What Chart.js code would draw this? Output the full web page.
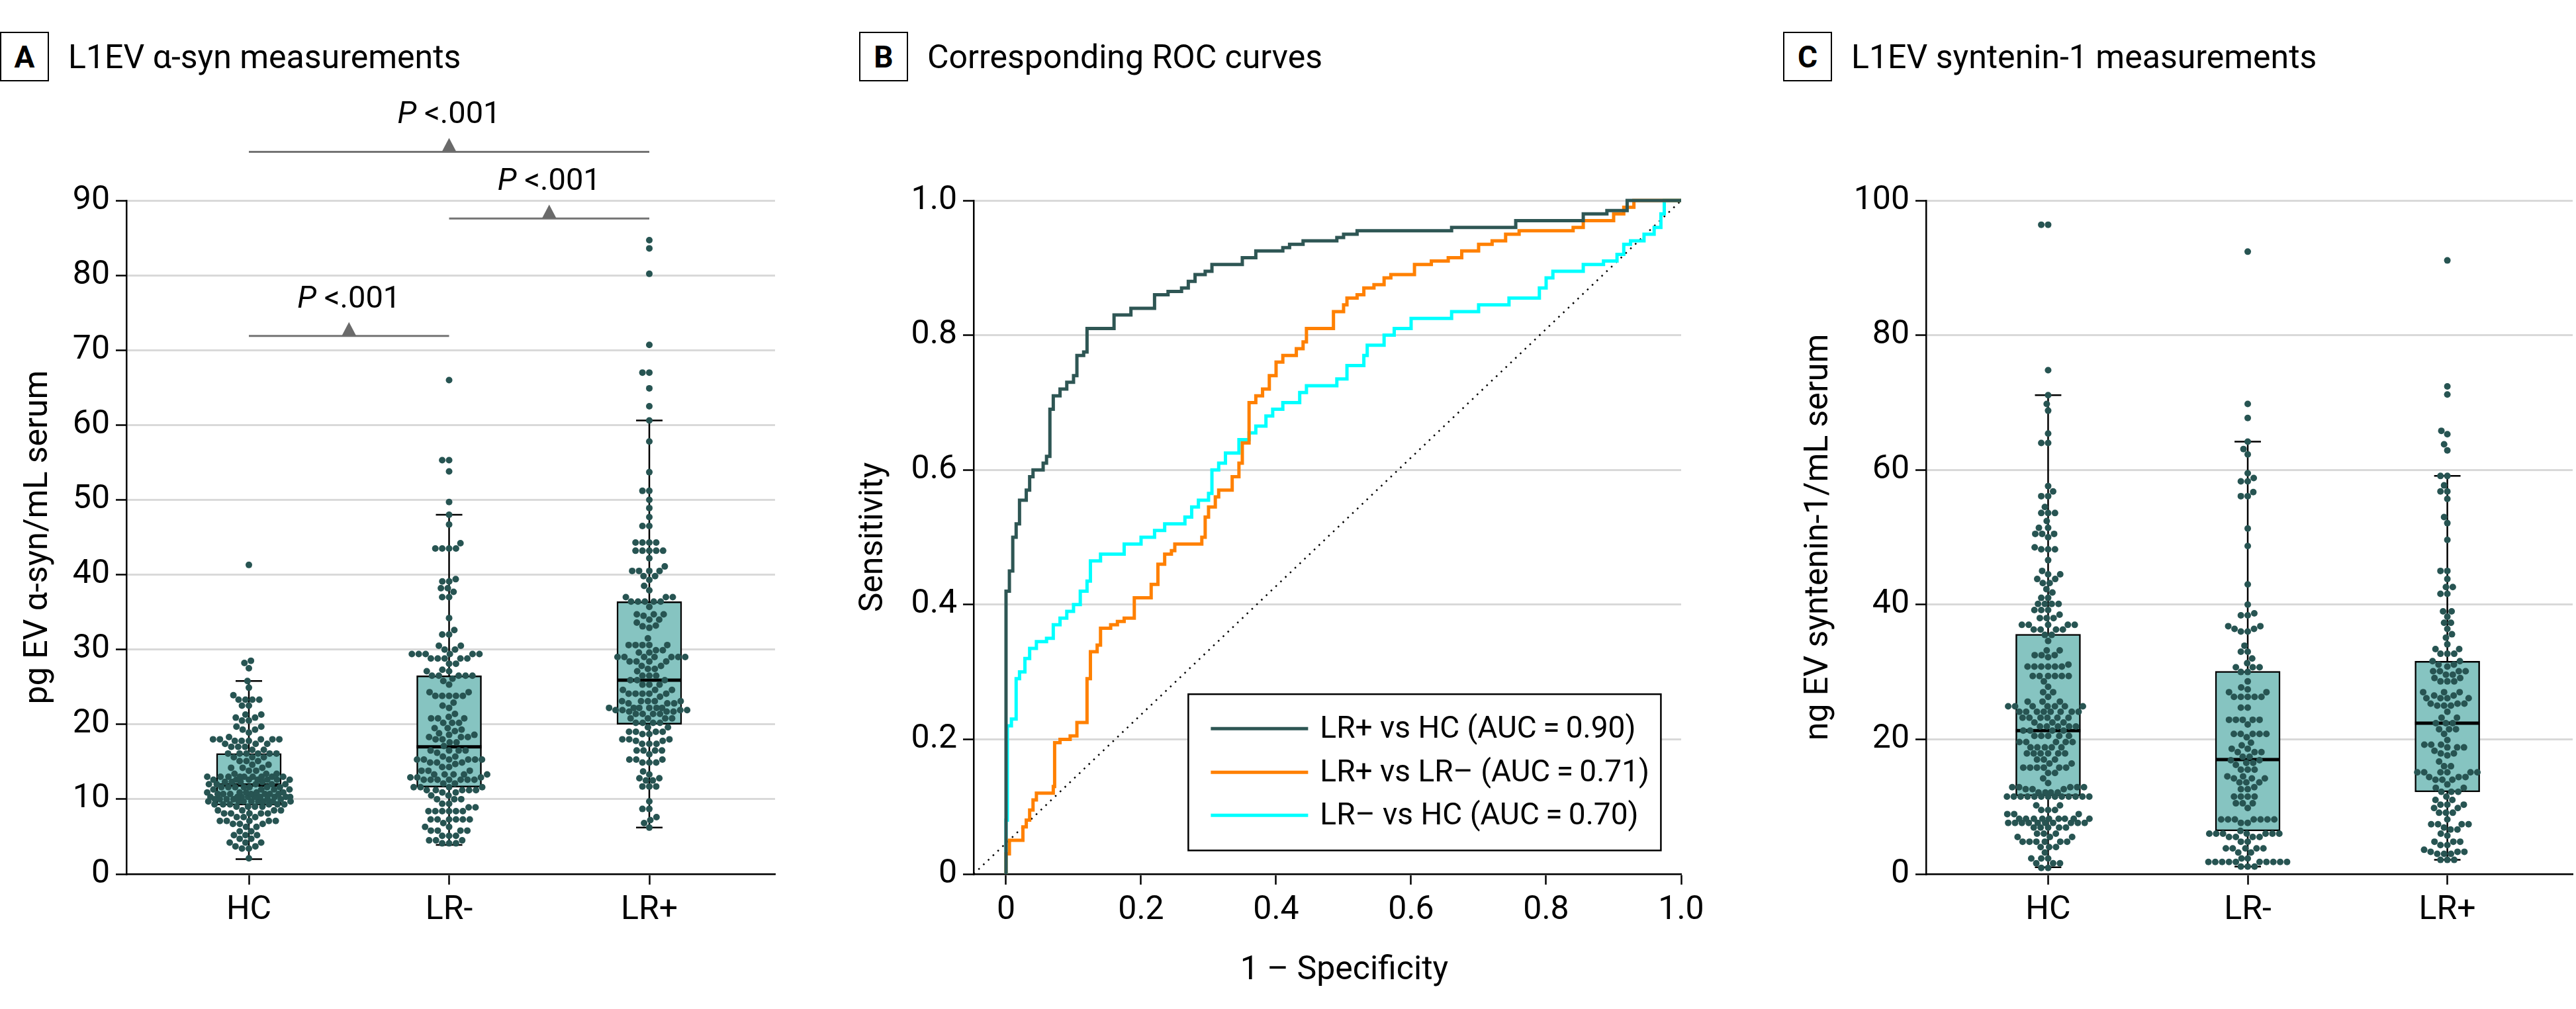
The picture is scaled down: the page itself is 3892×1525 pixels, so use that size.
<!DOCTYPE html>
<html><head><meta charset="utf-8">
<script src="https://cdn.jsdelivr.net/npm/chart.js@4.4.1/dist/chart.umd.min.js"></script>
<style>
html,body{margin:0;padding:0;background:#fff;}
#wrap{position:relative;width:3892px;height:1525px;overflow:hidden;font-family:Roboto,"Noto Sans",sans-serif;color:#000;}
canvas{position:absolute;top:0;}
.hdr{position:absolute;top:48px;height:75px;display:flex;align-items:center;white-space:nowrap;}
.lbl{box-sizing:border-box;width:74px;height:75px;border:2.5px solid #000;display:flex;align-items:center;justify-content:center;font-weight:700;font-size:46px;}
.ttl{font-size:50px;margin-left:29px;}
</style></head>
<body><div id="wrap">
<div class="hdr" style="left:0px"><div class="lbl">A</div><div class="ttl">L1EV α-syn measurements</div></div>
<div class="hdr" style="left:1298px"><div class="lbl">B</div><div class="ttl">Corresponding ROC curves</div></div>
<div class="hdr" style="left:2694px"><div class="lbl">C</div><div class="ttl">L1EV syntenin-1 measurements</div></div>
<canvas id="cA" width="1240" height="1525" style="left:0px"></canvas>
<canvas id="cB" width="1400" height="1525" style="left:1240px"></canvas>
<canvas id="cC" width="1252" height="1525" style="left:2640px"></canvas>
</div>
<script>
// ---------------- DATA ----------------
const categories = ['HC', 'LR-', 'LR+'];

// Panel A: L1EV alpha-syn (pg/mL)
const synHC = [41.3,28.5,28.2,27.5,25.8,24.9,23.9,23.3,23.3,23.3,23.3,22.5,22.5,21.3,21.3,20.9,20.9,20.5,20.5,19.7,19.7,19.3,19.3,18.9,18.3,
 18.0,18.0,18.0,18.0,18.0,17.8,17.8,17.8,17.4,17.4,17.4,17.0,17.0,17.0,16.6,16.6,16.1,16.1,16.1,16.1,16.1,16.1,15.6,15.6,15.6,15.1,15.1,15.1,
 14.6,14.6,14.2,14.2,14.2,13.8,13.8,13.4,13.4,13.4,13.0,13.0,13.0,13.0,13.0,13.0,13.0,13.0,13.0,12.6,12.6,12.6,12.6,12.6,12.6,12.6,
 12.3,12.3,12.3,12.3,12.0,12.0,12.0,12.0,12.0,11.6,11.6,11.6,11.6,11.6,11.6,11.6,11.3,11.3,11.3,11.3,10.9,10.9,10.9,10.9,10.9,
 10.7,10.7,10.7,10.7,10.7,10.7,10.7,10.3,10.3,10.3,10.3,10.3,10.3,10.3,10.3,10.3,10.0,10.0,10.0,10.0,10.0,10.0,
 9.7,9.7,9.7,9.7,9.7,9.7,9.7,9.7,9.3,9.3,9.3,9.3,9.3,9.3,9.0,9.0,9.0,9.0,8.5,8.5,8.5,8.5,8.1,8.1,8.1,8.1,8.1,7.6,7.6,7.6,
 7.1,7.1,7.1,7.1,7.1,6.7,6.7,6.7,6.3,6.3,5.7,5.7,5.2,5.2,5.2,4.7,4.7,4.2,4.2,4.2,3.7,3.7,3.4,3.4,2.1];
const synLRn = [66.0,55.3,55.3,53.8,49.7,48.0,46.7,44.2,43.5,43.5,43.5,43.5,39.4,39.1,39.1,38.2,38.2,37.7,37.0,37.0,34.2,32.6,32.0,32.0,
 30.5,30.5,30.0,30.0,29.4,29.4,29.4,29.4,29.4,29.4,28.8,28.8,28.8,28.8,28.8,28.1,28.1,27.3,27.1,27.1,26.5,26.5,26.5,26.5,26.5,26.1,25.8,25.3,
 24.3,24.3,23.8,23.8,23.8,23.8,23.8,22.9,22.5,22.2,21.4,21.0,20.8,20.8,20.8,20.2,20.2,20.2,19.5,19.5,19.3,19.1,18.8,18.6,18.6,18.3,18.3,18.3,
 18.0,18.0,17.6,17.6,17.1,16.5,16.5,16.5,16.5,16.2,15.7,15.7,15.3,15.3,15.3,15.3,15.3,15.3,14.9,14.9,14.9,14.7,14.3,14.3,13.8,13.8,13.8,
 13.3,13.3,13.3,13.3,13.3,12.9,12.9,12.9,12.6,12.6,12.6,12.6,12.6,12.6,12.6,12.1,12.1,11.6,11.6,11.6,11.6,11.2,11.2,11.2,11.2,11.2,
 10.9,10.9,10.5,10.5,10.0,10.0,10.0,9.4,9.4,8.9,8.9,8.4,8.4,8.4,8.4,8.4,8.4,7.3,7.3,7.3,7.3,7.3,7.3,6.8,6.3,6.3,5.8,5.8,5.8,5.8,
 5.1,5.1,5.1,4.5,4.5,4.5,4.1,4.1,4.1];
const synLRp = [84.7,83.6,80.2,70.7,67.0,67.0,64.9,62.5,60.6,57.8,53.7,51.2,51.2,50.0,48.9,47.7,46.5,46.5,44.3,44.3,44.3,44.3,
 43.2,43.2,43.2,43.2,43.2,42.2,41.1,40.5,40.5,40.5,40.5,39.8,39.8,39.3,38.5,37.9,37.0,37.0,37.0,36.4,36.4,36.4,36.4,36.4,35.7,
 34.7,34.7,34.7,34.5,34.0,34.0,33.6,33.2,33.1,32.9,31.5,30.6,30.6,30.6,30.6,30.6,29.9,29.9,29.6,29.6,29.0,29.0,29.0,29.0,29.0,29.0,29.0,
 28.4,28.4,28.4,28.4,27.8,27.8,27.4,27.4,27.1,26.5,26.5,26.5,25.9,25.9,25.9,25.3,25.3,25.3,24.6,24.6,24.6,24.1,24.1,24.1,24.1,24.1,23.7,
 23.1,23.1,23.1,23.1,23.1,22.8,22.8,22.8,22.2,22.2,22.2,22.2,22.2,22.2,21.9,21.9,21.9,21.9,21.7,21.7,21.7,21.4,21.4,21.4,21.4,
 20.8,20.8,20.8,20.8,20.2,20.2,20.2,20.2,19.6,19.6,19.0,19.0,19.0,19.0,18.7,18.7,18.0,18.0,18.0,17.8,17.8,17.4,17.4,17.4,
 16.5,16.5,16.5,16.5,16.0,15.3,15.3,15.3,14.9,14.9,14.9,13.7,13.3,12.8,12.8,12.5,12.5,11.7,11.7,11.7,9.7,8.7,8.7,7.6,7.2,6.8,6.2];
const synLow  = [2.0, 3.9, 6.2];
const synQ1   = [9.2, 11.6, 20.0];
const synMed  = [11.9, 17.0, 25.9];
const synQ3   = [16.1, 26.5, 36.4];
const synHigh = [25.8, 48.0, 60.6];
const synTicks = [0,10,20,30,40,50,60,70,80,90];
const synPairs = [[0,1],[1,2],[0,2]];
const synPText = ['<.001','<.001','<.001'];

// Panel B: ROC curves (1 - specificity, sensitivity)
const rocNames = ['LR+ vs HC (AUC\u2009=\u20090.90)', 'LR+ vs LR\u2013 (AUC\u2009=\u20090.71)', 'LR\u2013 vs HC (AUC\u2009=\u20090.70)'];
const rocHcFpr = [0,0,0.005,0.01,0.015,0.02,0.03,0.035,0.04,0.055,0.06,0.065,0.07,0.08,0.09,0.10,0.105,0.115,0.12,0.16,
 0.185,0.22,0.24,0.26,0.27,0.28,0.295,0.305,0.35,0.37,0.41,0.42,0.44,0.49,0.50,0.52,0.66,0.755,0.855,0.89,0.92,1.0];
const rocHcTpr = [0,0.42,0.45,0.50,0.52,0.555,0.57,0.59,0.60,0.61,0.62,0.69,0.71,0.72,0.73,0.74,0.77,0.775,0.81,0.83,
 0.84,0.86,0.865,0.87,0.88,0.89,0.895,0.905,0.915,0.925,0.93,0.935,0.94,0.945,0.95,0.955,0.96,0.97,0.98,0.985,1.0,1.0];
const rocLrFpr = [0,0,0.005,0.025,0.03,0.035,0.04,0.045,0.07,0.072,0.08,0.095,0.105,0.12,0.125,0.135,0.14,0.155,0.165,0.175,
 0.19,0.215,0.225,0.235,0.245,0.25,0.29,0.295,0.30,0.31,0.315,0.335,0.345,0.35,0.36,0.37,0.38,0.39,0.40,0.41,
 0.43,0.44,0.445,0.485,0.50,0.505,0.52,0.53,0.545,0.56,0.57,0.605,0.63,0.655,0.675,0.70,0.72,0.74,0.76,0.84,0.855,0.90,0.915,0.93,1.0];
const rocLrTpr = [0,0.03,0.05,0.07,0.08,0.095,0.11,0.12,0.13,0.195,0.20,0.205,0.225,0.29,0.33,0.34,0.365,0.37,0.375,0.38,
 0.41,0.43,0.46,0.475,0.48,0.49,0.50,0.53,0.545,0.56,0.57,0.59,0.61,0.64,0.70,0.71,0.72,0.74,0.76,0.77,
 0.78,0.79,0.81,0.835,0.845,0.855,0.86,0.87,0.875,0.885,0.89,0.905,0.91,0.915,0.925,0.935,0.94,0.95,0.955,0.96,0.97,0.98,0.99,1.0,1.0];
const rocNegFpr = [0,0,0.002,0.008,0.015,0.02,0.028,0.035,0.045,0.06,0.07,0.08,0.09,0.10,0.11,0.12,0.125,0.14,0.175,0.20,
 0.22,0.235,0.265,0.275,0.285,0.30,0.305,0.315,0.325,0.345,0.36,0.37,0.385,0.395,0.41,0.435,0.445,0.49,0.505,0.53,
 0.535,0.56,0.575,0.60,0.66,0.70,0.745,0.79,0.80,0.81,0.855,0.885,0.905,0.915,0.925,0.945,0.96,0.97,0.975,1.0];
const rocNegTpr = [0,0.08,0.22,0.23,0.29,0.30,0.32,0.335,0.345,0.35,0.37,0.38,0.39,0.40,0.42,0.435,0.465,0.475,0.49,0.50,
 0.51,0.52,0.53,0.545,0.555,0.565,0.60,0.61,0.625,0.645,0.655,0.665,0.68,0.69,0.70,0.715,0.725,0.735,0.755,0.77,
 0.785,0.80,0.81,0.825,0.835,0.845,0.855,0.87,0.885,0.895,0.905,0.91,0.92,0.935,0.94,0.95,0.96,0.98,1.0,1.0];
const rocTicks = [0,0.2,0.4,0.6,0.8,1.0];

// Panel C: L1EV syntenin-1 (ng/mL)
const sytHC = [96.4,96.4,74.8,71.1,69.8,68.8,65.4,64.0,64.0,57.6,56.8,56.1,56.1,54.5,53.6,53.6,53.6,52.4,51.4,51.4,50.5,50.5,50.5,50.0,
 48.5,48.2,48.2,48.2,46.6,45.0,44.5,44.5,43.8,43.8,43.2,43.2,42.3,41.8,41.0,41.0,40.1,40.1,40.1,40.1,39.2,39.2,39.2,38.5,38.0,38.0,38.0,
 37.0,37.0,37.0,37.0,37.0,36.3,36.3,36.3,36.3,35.5,35.5,34.6,33.2,33.2,32.5,32.5,32.5,32.2,31.1,30.8,30.8,30.8,30.8,30.8,30.8,
 29.4,29.4,29.4,29.4,29.4,29.4,28.6,27.8,27.0,27.0,26.3,25.6,25.6,25.6,24.9,24.9,24.9,24.9,24.9,24.9,24.9,
 24.1,24.1,24.1,24.1,24.1,24.1,24.1,24.1,23.2,23.2,23.2,23.2,23.2,23.2,22.5,22.5,22.5,21.9,21.9,21.9,21.9,21.9,21.3,21.3,21.3,21.3,
 20.5,20.5,20.5,20.5,20.5,19.6,19.6,19.6,19.6,19.6,18.8,18.8,18.8,18.8,18.8,17.9,17.9,17.9,17.9,17.9,17.9,17.0,17.0,17.0,16.4,16.4,
 15.8,15.8,15.8,15.8,15.8,15.8,15.0,15.0,14.2,13.5,12.9,12.9,12.9,12.9,12.9,12.6,12.6,12.6,12.1,12.1,12.1,12.1,
 11.5,11.5,11.5,11.5,11.5,11.5,11.5,11.5,11.5,11.5,11.5,11.5,11.5,10.2,10.2,9.5,9.5,9.5,8.9,8.9,8.9,
 8.2,8.2,8.2,8.2,8.2,8.2,8.2,8.2,8.2,7.6,7.6,7.6,7.6,7.6,7.6,7.6,7.6,7.6,7.6,6.9,6.9,6.9,6.9,6.9,6.0,6.0,6.0,5.5,5.5,5.5,
 4.8,4.8,4.8,4.8,4.8,4.8,4.0,4.0,4.0,3.2,2.3,2.3,2.3,1.6,1.6,1.6,0.9,0.9];
const sytLRn = [92.4,69.8,67.7,64.2,63.1,62.3,59.5,58.8,58.3,58.3,56.7,56.1,56.1,51.3,48.7,43.0,40.0,38.7,38.4,38.4,36.8,36.8,36.4,36.4,
 36.0,36.0,33.9,33.0,33.0,32.0,31.3,30.7,30.7,30.7,30.0,30.0,28.6,27.7,27.4,27.0,27.0,26.3,26.3,26.3,26.3,26.3,24.7,24.7,
 22.9,22.9,22.9,22.9,22.9,22.2,20.8,20.8,20.8,20.8,20.8,20.3,19.5,19.1,18.6,18.6,18.1,18.1,18.1,17.4,17.4,16.9,16.9,16.5,16.5,16.2,
 15.5,15.5,15.5,14.5,14.5,14.2,14.2,14.2,13.6,13.6,13.6,12.9,12.6,12.6,11.5,11.5,11.5,11.5,10.5,10.5,10.5,9.8,
 8.1,8.1,8.1,8.1,8.1,8.1,8.1,7.6,7.6,6.4,6.0,6.0,6.0,6.0,6.0,6.0,6.0,5.5,5.5,5.5,5.5,4.8,4.8,3.8,3.8,3.8,3.8,3.8,3.2,3.2,2.3,2.3,
 1.8,1.8,1.8,1.8,1.8,1.8,1.8,1.8,1.8,1.8,1.1,1.1,1.1];
const sytLRp = [91.1,72.4,71.2,65.8,65.3,63.8,62.9,59.1,59.1,57.7,56.8,56.8,55.7,53.0,52.1,49.6,45.0,45.0,43.8,42.6,42.6,41.6,41.6,
 39.0,39.0,38.2,37.3,37.3,36.4,35.6,35.1,34.1,33.4,33.4,32.7,32.7,32.7,31.6,31.6,31.1,31.1,30.8,30.1,30.1,30.1,30.1,29.6,29.6,29.1,29.1,
 28.6,28.6,28.6,27.0,27.0,27.0,26.5,26.5,26.1,26.1,26.1,26.1,25.3,25.3,25.3,25.0,25.0,25.0,24.1,23.2,23.2,22.4,22.4,22.4,21.5,21.5,21.5,
 20.8,19.9,19.2,19.2,19.2,18.8,18.8,18.8,18.3,17.9,17.9,17.6,16.7,16.0,16.0,15.1,15.1,15.1,15.1,15.1,15.1,14.4,14.4,14.4,14.0,14.0,14.0,
 13.3,12.8,12.8,12.2,12.2,12.2,11.5,11.0,11.0,10.3,10.3,10.3,9.8,9.8,9.1,9.1,9.1,8.1,7.4,7.4,7.4,7.4,6.9,6.6,6.6,6.0,5.7,
 4.8,4.8,4.8,4.3,4.3,3.6,3.3,3.3,3.3,3.0,3.0,3.0,2.1,2.1,2.1];
const sytLow  = [1.0, 1.1, 2.1];
const sytQ1   = [11.6, 6.4, 12.2];
const sytMed  = [21.3, 17.0, 22.4];
const sytQ3   = [35.6, 30.1, 31.6];
const sytHigh = [71.1, 64.2, 59.1];
const sytTicks = [0,20,40,60,80,100];

// ---------------- STYLE ----------------
const FONT = 'Roboto';
Chart.defaults.font.family = FONT;
Chart.defaults.color = '#000';
const DOT = '#275452', BOXFILL = '#86c4c1', GRID = '#d9d9d9';
const BOX_PX = 98, CAP_PX = 40, DOT_R = 5, DOT_GAP = 10.4, SWARM_HALF = 63;
const TICK_FONT = 50, TITLE_FONT = 50;

// beeswarm layout in pixel space; dense rows are compressed to stay within SWARM_HALF
function swarm(vals, ys) {
  const items = vals.map(v => ({v, py: ys.getPixelForValue(v), dx: 0})).sort((a, b) => a.v - b.v);
  const placed = [];
  const gaps = [DOT_GAP, 9.4, 8.4, 7.4, 6.4, 5.4, 4.4, 3.4, 2.4, 1.4];
  for (const p of items) {
    let done = false;
    for (const d of gaps) {
      const near = placed.filter(q => Math.abs(q.py - p.py) < d);
      const cands = [0];
      near.forEach(q => { const dy = q.py - p.py; const w = Math.sqrt(d*d - dy*dy); cands.push(q.dx + w, q.dx - w); });
      cands.sort((a, b) => (Math.abs(a) - Math.abs(b)) || (a - b));
      for (const c of cands) {
        if (Math.abs(c) > SWARM_HALF) break;
        let ok = true;
        for (const q of near) { const dy = q.py - p.py, dx = q.dx - c; if (dx*dx + dy*dy < d*d - 0.01) { ok = false; break; } }
        if (ok) { p.dx = c; done = true; break; }
      }
      if (done) break;
    }
    placed.push(p);
  }
  return placed;
}

function bracketPlugin(pairs, texts, levels) {
  return {
    id: 'brackets',
    afterDatasetsDraw(chart) {
      const {ctx, scales: {x, y}} = chart;
      ctx.save();
      pairs.forEach((pr, k) => {
        const x1 = x.getPixelForValue(pr[0]), x2 = x.getPixelForValue(pr[1]);
        const yy = y.getPixelForValue(levels[k]);
        const xm = (x1 + x2) / 2;
        ctx.strokeStyle = '#747474'; ctx.lineWidth = 3;
        ctx.beginPath(); ctx.moveTo(x1, yy); ctx.lineTo(x2, yy); ctx.stroke();
        ctx.fillStyle = '#6a6a6a';
        ctx.beginPath(); ctx.moveTo(xm - 11, yy); ctx.lineTo(xm + 11, yy); ctx.lineTo(xm, yy - 21); ctx.closePath(); ctx.fill();
        ctx.fillStyle = '#000'; ctx.textBaseline = 'alphabetic'; ctx.textAlign = 'left';
        const fI = 'italic 47px ' + FONT, fR = '47px ' + FONT;
        ctx.font = fI; const wP = ctx.measureText('P').width;
        const rest = ' ' + texts[k];
        ctx.font = fR; const wR = ctx.measureText(rest).width;
        const sx = xm - (wP + wR) / 2;
        ctx.font = fI; ctx.fillText('P', sx, yy - 43);
        ctx.font = fR; ctx.fillText(rest, sx + wP, yy - 43);
      });
      ctx.restore();
    }
  };
}

function boxPanel(id, groups, low, q1, med, q3, high, ticks, yMax, yTitle, yAxisW, titlePad, padRight, plugins) {
  const n = categories.length;
  const whisk = [];
  for (let i = 0; i < n; i++) {
    whisk.push({x: i, y: low[i]}, {x: i, y: q1[i]}, {x: i, y: null}, {x: i, y: q3[i]}, {x: i, y: high[i]}, {x: i, y: null});
  }
  const chart = new Chart(document.getElementById(id), {
    type: 'scatter',
    data: {
      datasets: [
        {type: 'scatter', data: [], pointRadius: DOT_R, pointHoverRadius: DOT_R, backgroundColor: DOT, borderWidth: 0, order: 0, clip: false},
        {type: 'line', data: [], borderColor: '#000', borderWidth: 5, pointRadius: 0, order: 1, clip: false, spanGaps: false},
        {type: 'line', data: [], borderColor: '#000', borderWidth: 2.5, pointRadius: 0, order: 2, clip: false, spanGaps: false},
        {type: 'line', data: whisk, borderColor: '#000', borderWidth: 2.5, pointRadius: 0, order: 2, clip: false, spanGaps: false},
        {type: 'bar', data: categories.map((c, i) => ({x: i, y: [q1[i], q3[i]]})), backgroundColor: BOXFILL, borderColor: '#000',
         borderWidth: 2.5, borderSkipped: false, barThickness: BOX_PX, order: 3}
      ]
    },
    options: {
      responsive: false, animation: false, events: [], devicePixelRatio: 1,
      layout: {padding: {top: 303, right: padRight, bottom: 0, left: 0}},
      plugins: {legend: {display: false}, tooltip: {enabled: false}},
      scales: {
        x: {type: 'linear', min: -0.6116, max: 2.628, offset: false,
            afterBuildTicks: s => { s.ticks = categories.map((c, i) => ({value: i})); },
            ticks: {callback: v => categories[v], font: {size: TICK_FONT}, padding: 9, color: '#000', autoSkip: false, maxRotation: 0},
            grid: {offset: false, drawOnChartArea: false, drawTicks: true, tickLength: 16, tickColor: '#000', tickWidth: 2.5},
            border: {color: '#000', width: 2.5},
            afterFit: s => { s.height = 204; }},
        y: {type: 'linear', min: 0, max: yMax,
            afterBuildTicks: s => { s.ticks = ticks.map(v => ({value: v})); },
            ticks: {font: {size: TICK_FONT}, padding: 9, color: '#000', callback: v => String(v)},
            grid: {offset: false, color: GRID, lineWidth: 3, tickLength: 16, tickColor: '#000', tickWidth: 2.5, drawTicks: true},
            border: {color: '#000', width: 2.5},
            title: {display: true, text: yTitle, font: {size: TITLE_FONT}, color: '#000', padding: {top: titlePad, bottom: 0}},
            afterFit: s => { s.width = yAxisW; }}
      }
    },
    plugins: plugins
  });
  const xs = chart.scales.x, ys = chart.scales.y;
  const unit = xs.getPixelForValue(1) - xs.getPixelForValue(0);
  const pts = [];
  groups.forEach((vals, gi) => { swarm(vals, ys).forEach(p => pts.push({x: gi + p.dx / unit, y: p.v})); });
  const bh = BOX_PX / 2 / unit, chh = CAP_PX / 2 / unit;
  const medLine = [], caps = [];
  for (let i = 0; i < n; i++) {
    medLine.push({x: i - bh, y: med[i]}, {x: i + bh, y: med[i]}, {x: i, y: null});
    caps.push({x: i - chh, y: low[i]}, {x: i + chh, y: low[i]}, {x: i, y: null}, {x: i - chh, y: high[i]}, {x: i + chh, y: high[i]}, {x: i, y: null});
  }
  chart.data.datasets[0].data = pts;
  chart.data.datasets[1].data = medLine;
  chart.data.datasets[2].data = caps;
  chart.update('none');
  return chart;
}

// Panel A
boxPanel('cA', [synHC, synLRn, synLRp], synLow, synQ1, synMed, synQ3, synHigh, synTicks, 90,
  'pg EV α-syn/mL serum', 191, 28, 69, [bracketPlugin(synPairs, synPText, [71.9, 87.6, 96.5])]);

// Panel C
boxPanel('cC', [sytHC, sytLRn, sytLRp], sytLow, sytQ1, sytMed, sytQ3, sytHigh, sytTicks, 100,
  'ng EV syntenin-1/mL serum', 270, 78, 2, []);

// Panel B
const rocXMin = -0.048;
const rocColors = ['#2e5654', '#ff8000', '#00ffff'];
const rocSets = [[rocHcFpr, rocHcTpr], [rocLrFpr, rocLrTpr], [rocNegFpr, rocNegTpr]];
const rocLegend = {
  id: 'rocLegend',
  afterDatasetsDraw(chart) {
    const {ctx, scales: {x, y}} = chart;
    const l = x.getPixelForValue(0.27), r = x.getPixelForValue(0.97);
    const t = y.getPixelForValue(0.267), b = y.getPixelForValue(0.035);
    ctx.save();
    ctx.fillStyle = '#fff'; ctx.fillRect(l, t, r - l, b - t);
    ctx.strokeStyle = '#000'; ctx.lineWidth = 2.5; ctx.strokeRect(l, t, r - l, b - t);
    const rows = [52, 118, 183];
    ctx.font = '46px ' + FONT; ctx.textBaseline = 'middle'; ctx.textAlign = 'left';
    rocNames.forEach((nm, k) => {
      const yy = t + rows[k];
      ctx.strokeStyle = rocColors[k]; ctx.lineWidth = 5;
      ctx.beginPath(); ctx.moveTo(l + 34, yy); ctx.lineTo(l + 181, yy); ctx.stroke();
      ctx.fillStyle = '#000'; ctx.fillText(nm, l + 199, yy + 2);
    });
    ctx.restore();
  }
};
const rocDatasets = [];
[2, 1, 0].forEach(k => {
  rocDatasets.push({type: 'line', data: rocSets[k][0].map((f, i) => ({x: f, y: rocSets[k][1][i]})),
    borderColor: rocColors[k], borderWidth: 5, pointRadius: 0, stepped: 'before', fill: false, clip: false, order: k});
});
rocDatasets.push({type: 'line', data: [{x: rocXMin, y: 0}, {x: 1, y: 1}], borderColor: '#000', borderWidth: 2.5,
  borderDash: [2.5, 7.5], pointRadius: 0, fill: false, order: 5});
new Chart(document.getElementById('cB'), {
  type: 'scatter',
  data: {datasets: rocDatasets},
  options: {
    responsive: false, animation: false, events: [], devicePixelRatio: 1,
    layout: {padding: {top: 303, right: 100, bottom: 0, left: 0}},
    plugins: {legend: {display: false}, tooltip: {enabled: false}},
    scales: {
      x: {type: 'linear', min: rocXMin, max: 1, offset: false,
          afterBuildTicks: s => { s.ticks = rocTicks.map(v => ({value: v})); },
          ticks: {callback: v => v === 0 ? '0' : v.toFixed(1), font: {size: TICK_FONT}, padding: 9, color: '#000', autoSkip: false, maxRotation: 0},
          grid: {offset: false, drawOnChartArea: false, drawTicks: true, tickLength: 16, tickColor: '#000', tickWidth: 2.5},
          border: {color: '#000', width: 2.5},
          title: {display: true, text: '\u2002\u20021 \u2013 Specificity', font: {size: TITLE_FONT}, color: '#000', padding: {top: 0, bottom: 28}},
          afterFit: s => { s.height = 204; }},
      y: {type: 'linear', min: 0, max: 1,
          afterBuildTicks: s => { s.ticks = rocTicks.map(v => ({value: v})); },
          ticks: {callback: v => v === 0 ? '0' : v.toFixed(1), font: {size: TICK_FONT}, padding: 9, color: '#000'},
          grid: {offset: false, color: GRID, lineWidth: 3, tickLength: 16, tickColor: '#000', tickWidth: 2.5, drawTicks: true},
          border: {color: '#000', width: 2.5},
          title: {display: true, text: 'Sensitivity', font: {size: TITLE_FONT}, color: '#000', padding: {top: 50, bottom: 0}},
          afterFit: s => { s.width = 231; }}
    }
  },
  plugins: [rocLegend]
});
</script>
</body></html>
